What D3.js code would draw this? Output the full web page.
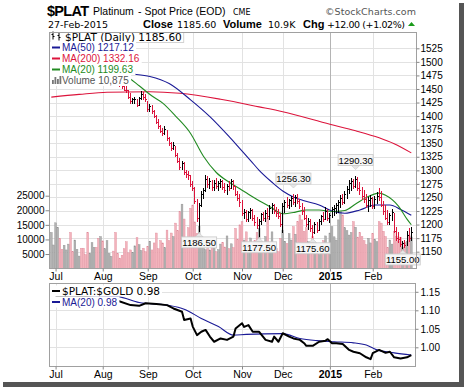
<!DOCTYPE html>
<html>
<head>
<meta charset="utf-8">
<script src="https://cdn.jsdelivr.net/npm/d3@7"></script>
<style>
  body { margin: 0; background: #fff; }
  svg { display: block; }
  text { font-family: "DejaVu Sans", Verdana, sans-serif; }
  .ax text { font-family: "Liberation Sans", Arial, sans-serif; font-size: 10px; fill: #000; }
</style>
</head>
<body>
<svg width="464" height="387"></svg>
<script>
// bar index 0 = 27-Jun-2014, index 168 = 27-Feb-2015
var monthLabels = ["Jul", "Aug", "Sep", "Oct", "Nov", "Dec", "2015", "Feb"];
var monthIdx = [2, 24, 45, 66, 89, 108, 130, 150];
var priceTicks = [1150, 1175, 1200, 1225, 1250, 1275, 1300, 1325, 1350, 1375, 1400, 1425, 1450, 1475, 1500, 1525];
var volTicks = [5000, 10000, 15000, 20000, 25000];
var ratioTicks = [1.00, 1.05, 1.10, 1.15];

var high = [
  1486,1489,1500,1512,1514,1508,1510,1516,1522,1520,1512,1506,1509,1512,1509,1499,1492,1488,1489,1492,1494,1491,1484,1478,
  1476,1472,1476,1482,1486,1484,1476,1472,1468,1462,1460,1457,1448,1442,1434,1436,1431,1436,1446,1444,1440,
  1428,1422,1421,1412,1402,1395,1384,1378,1382,1374,1362,1352,1352,1344,1332,1322,1318,1316,1300,1298,1292,
  1280,1270,1248,1240,1262,1268,1292,1290,1285,1282,1282,1286,1280,1284,1283,1276,1275,1280,1284,1282,1272,1262,1256,
  1245,1228,1226,1225,1230,1228,1218,1214,1210,1222,1224,1226,1230,1236,1240,1238,1232,1228,1222,
  1240,1245,1250,1248,1252,1256.3,1254,1256,1248,1240,1232,1218,1212,1210,1200,1205,1204,1210,1218,1224,1232,1228,
  1222,1232,1236,1240,1246,1254,1256,1262,1272,1282,1285,1284,1290.3,1288,1278,1270,1264,1256,1250,1254,
  1250,1252,1260,1268,1262,1244,1236,1226,1222,1228,1222,1196,1186,1178,1170,1172,1188,1194,1196
];
var low = [
  1474,1476,1481,1494,1500,1496,1497,1502,1508,1506,1494,1492,1496,1499,1492,1484,1478,1472,1474,1479,1482,1476,1466,1464,
  1460,1458,1462,1466,1470,1468,1462,1458,1454,1450,1446,1443,1432,1423,1423,1422,1417,1419,1430,1430,1426,
  1408,1407,1404,1396,1386,1377,1368,1364,1366,1355,1345,1335,1337,1325,1314,1300,1300,1292,1286,1282,1270,
  1262,1238,1205,1186.5,1232,1248,1260,1268,1266,1262,1262,1265,1262,1268,1264,1258,1255,1262,1266,1264,1252,1244,1232,
  1215,1210,1205,1205,1210,1206,1198,1192,1177.5,1200,1206,1205,1210,1208,1220,1220,1214,1210,1196,
  1184,1222,1230,1228,1232,1236,1232,1238,1228,1218,1208,1196,1190,1186,1175.6,1182,1184,1188,1200,1205,1208,1206,
  1202,1212,1216,1220,1222,1230,1236,1238,1248,1256,1262,1266,1268,1262,1254,1246,1240,1230,1224,1232,
  1228,1228,1238,1244,1232,1218,1208,1200,1200,1206,1184,1170,1166,1158,1155,1156,1160,1168,1170
];
var close = [
  1480,1483,1497,1508,1505,1500,1506,1512,1518,1510,1498,1502,1505,1508,1496,1488,1482,1478,1484,1488,1490,1480,1470,1474,
  1464,1468,1471,1478,1480,1472,1466,1462,1458,1455,1448,1447,1435,1426,1430,1431,1420,1432,1440,1434,1430,
  1412,1418,1408,1400,1389,1380,1372,1368,1376,1358,1349,1340,1346,1328,1317,1305,1312,1296,1292,1290,1274,
  1266,1242,1212,1236,1255,1262,1284,1274,1280,1268,1276,1270,1275,1280,1268,1262,1270,1266,1280,1270,1256,1248,1240,
  1220,1222,1210,1222,1226,1212,1204,1198,1205,1218,1212,1220,1214,1230,1236,1225,1220,1214,1200,
  1234,1240,1236,1244,1248,1240,1250,1242,1234,1225,1212,1200,1206,1192,1186,1200,1190,1205,1214,1210,1225,1212,
  1216,1228,1230,1236,1240,1248,1240,1256,1264,1276,1280,1270,1284,1266,1262,1252,1246,1236,1244,1248,
  1234,1246,1252,1250,1236,1224,1212,1204,1216,1222,1188,1174,1172,1164,1166,1162,1180,1173.6,1185.6
];
var volume = [
  12400,8100,15700,14100,10400,6600,8000,6400,8400,12400,5800,9800,6600,4300,7000,7000,4800,12400,5300,8900,7300,7300,10400,11000,
  9500,6800,9600,5200,4200,6000,12400,5200,3600,4600,6800,9200,5400,6400,5500,7800,10600,8200,6200,7000,5800,
  7600,9400,6400,8800,12200,6800,9600,8800,7200,13200,9600,12200,11000,15600,13000,19500,22100,17000,10500,14000,20700,
  21800,16000,12000,14500,11000,9000,6500,7500,6400,9800,7000,5800,6500,8400,9000,7400,11200,6800,8500,7200,13800,10000,15000,
  16100,9800,12600,8500,10500,7600,9600,12400,13800,9200,7400,11000,17200,8800,12600,9000,6800,5800,10400,
  13200,9400,8600,12000,9800,14400,11800,16100,18400,16700,12800,14000,9200,8600,11000,6400,5800,4800,7400,9600,11200,8400,
  12200,14400,10900,9800,16700,19500,18400,14000,13000,11500,12400,16100,14200,10800,12400,11000,9600,8200,10400,8800,
  12000,10000,9200,16100,15600,12800,11000,7200,9800,8400,12800,11000,9200,10800,7400,9000,9400,11500,10875
];

// moving averages, [bar index, value]
var ma200 = [[0,1435],[13,1440],[26,1444],[46,1445],[60,1442],[79,1431],[97,1417],[108,1408],[130,1385],[142,1373],[153,1360],[160,1349],[168,1332.16]];
var ma50 = [[0,1490],[20,1486],[37,1478],[46,1473],[55,1460],[65,1430],[74,1399],[83,1362],[88,1340],[93,1318],[97,1300],[103,1278],[108,1262],[113,1251],[118,1244],[125,1236],[131,1225],[137,1221],[144,1227],[151,1236],[158,1236],[163,1228],[168,1217.12]];
var ma20 = [[0,1490],[20,1500],[35,1474],[41,1456],[47,1437],[52,1424],[58,1400],[65,1368],[71,1326],[77,1296],[83,1278],[88,1266],[92,1256],[97,1244],[102,1233],[108,1220],[114,1223],[119,1227],[125,1227],[131,1224],[137,1226],[142,1238],[147,1250],[153,1258],[156,1254],[162,1234],[166,1210],[168,1199.63]];

// $PLAT:$GOLD ratio and its MA(20)
var ratio = [[2,1.136],[10,1.14],[20,1.134],[28,1.13],[31,1.126],[37,1.114],[41,1.112],[44,1.119],[49,1.117],[54,1.114],[57,1.105],[61,1.096],[62,1.074],[65,1.078],[66,1.056],[68,1.033],[70,1.042],[72,1.047],[74,1.029],[76,1.015],[79,1.024],[82,1.020],[85,1.029],[86,1.051],[89,1.065],[90,1.055],[92,1.06],[94,1.042],[97,1.042],[100,1.020],[103,1.015],[104,1.029],[106,1.015],[108,1.038],[111,1.029],[113,1.024],[116,1.02],[118,1.011],[119,1.004],[122,1.004],[125,1.015],[128,1.018],[129,1.022],[131,1.011],[133,1.011],[136,1.009],[139,0.993],[141,0.988],[144,0.984],[147,0.973],[149,0.968],[150,0.984],[153,0.993],[156,0.985],[158,0.988],[160,0.973],[163,0.970],[166,0.973],[168,0.979]];
var ratioMa = [[2,1.14],[20,1.139],[31,1.137],[41,1.121],[54,1.114],[62,1.103],[70,1.078],[78,1.056],[85,1.033],[91,1.035],[108,1.037],[116,1.024],[124,1.018],[132,1.015],[141,1.012],[147,1.006],[152,0.993],[160,0.985],[168,0.979]];

// high/low annotations: [bar index, value, above?]
var callouts = [[69,1186.5,false],[97,1177.5,false],[113,1256.3,true],[122,1175.6,false],[142,1290.3,true],[164,1155.0,false]];

var svg = d3.select("svg");
var RED = "#dc143c", NAVY = "#1a1a96", GREEN = "#228b22";

var M = {l: 49.5, t: 32.5, r: 416.5, b: 268.5};
var S = {l: 49.5, t: 283.5, r: 415.5, b: 366.5};

var x = d3.scaleLinear().domain([0, 168]).range([51.3, 411.3]);
var yP = d3.scaleLinear().domain([1150, 1525]).range([251.7, 48.3]);
var yV = d3.scaleLinear().domain([0, 25000]).range([268.6, 195.7]);
var yR = d3.scaleLinear().domain([1.00, 1.15]).range([347.3, 291.8]);

var defs = svg.append("defs");
defs.append("clipPath").attr("id", "clipM").append("rect")
  .attr("x", M.l).attr("y", M.t).attr("width", M.r - M.l).attr("height", M.b - M.t);
defs.append("clipPath").attr("id", "clipS").append("rect")
  .attr("x", S.l).attr("y", S.t).attr("width", S.r - S.l).attr("height", S.b - S.t);

// frame shadow
svg.append("rect").attr("x", 459).attr("y", 3).attr("width", 5).attr("height", 384).attr("fill", "#555");
svg.append("rect").attr("x", 3).attr("y", 382).attr("width", 461).attr("height", 5).attr("fill", "#555");

// ---------- header ----------
var hd = svg.append("g");
hd.append("text").attr("x", 47).attr("y", 15.5).text("$PLAT").attr("textLength", 42)
  .style("font-family", "Liberation Sans, Arial").style("font-weight", "bold").style("font-size", "14.5px");
hd.append("text").attr("x", 93).attr("y", 15).text("Platinum")
  .style("font-family", "Liberation Sans, Arial").style("font-size", "10.5px");
hd.append("text").attr("x", 138).attr("y", 15).text("- Spot Price (EOD)")
  .style("font-family", "Liberation Sans, Arial").style("font-size", "10.5px");
hd.append("text").attr("x", 233).attr("y", 15).text("CME").style("font-size", "8px");
hd.append("text").attr("x", 325).attr("y", 15).text("\u00a9StockCharts.com")
  .attr("textLength", 91).style("font-size", "9.5px").style("fill", "#555");

hd.append("text").attr("x", 48).attr("y", 27.5).text("27-Feb-2015").style("font-size", "9.5px");
var boldF = function (s) { return s.style("font-family", "Liberation Sans, Arial").style("font-weight", "bold").style("font-size", "11px"); };
boldF(hd.append("text").attr("x", 143).attr("y", 27.5).text("Close"));
hd.append("text").attr("x", 177).attr("y", 27.5).text("1185.60").style("font-size", "9.5px");
boldF(hd.append("text").attr("x", 223).attr("y", 27.5).text("Volume"));
hd.append("text").attr("x", 268).attr("y", 27.5).text("10.9K").style("font-size", "9.5px");
boldF(hd.append("text").attr("x", 303).attr("y", 27.5).text("Chg"));
hd.append("text").attr("x", 327).attr("y", 27.5).text("+12.00 (+1.02%)")
  .attr("textLength", 78).style("font-size", "9.5px");
hd.append("path").attr("d", "M408,26 L415,26 L411.5,22 Z").attr("fill", "#1a9a1a");

// ---------- main panel ----------
var gM = svg.append("g");
gM.append("rect").attr("x", M.l).attr("y", M.t).attr("width", M.r - M.l).attr("height", M.b - M.t).attr("fill", "#fff");

gM.append("g").selectAll("line").data(priceTicks).enter().append("line")
  .attr("x1", M.l).attr("x2", M.r).attr("y1", d => Math.round(yP(d)) + 0.5).attr("y2", d => Math.round(yP(d)) + 0.5)
  .attr("stroke", "#e2e2e2");
gM.append("g").selectAll("line").data(monthIdx).enter().append("line")
  .attr("x1", d => Math.round(x(d)) + 0.5).attr("x2", d => Math.round(x(d)) + 0.5)
  .attr("y1", M.t).attr("y2", M.b)
  .attr("stroke", (d, i) => monthLabels[i] === "2015" ? "#b4b4b4" : "#e2e2e2");

var up = close.map((c, i) => i === 0 ? true : c >= close[i - 1]);

var inner = gM.append("g").attr("clip-path", "url(#clipM)");
inner.append("g").selectAll("rect").data(volume).enter().append("rect")
  .attr("x", (d, i) => x(i) - 0.9).attr("width", 1.8)
  .attr("y", d => yV(d)).attr("height", d => yV(0) - yV(d))
  .attr("fill", (d, i) => up[i] ? "#b3b3b3" : "#f2b3bc")
  .attr("stroke", (d, i) => up[i] ? "#8f8f8f" : "#e0899a").attr("stroke-width", 0.4);

var maLine = d3.line().x(d => x(d[0])).y(d => yP(d[1])).curve(d3.curveMonotoneX);
inner.append("path").datum(ma200).attr("d", maLine).attr("fill", "none").attr("stroke", RED).attr("stroke-width", 1.1);
inner.append("path").datum(ma50).attr("d", maLine).attr("fill", "none").attr("stroke", NAVY).attr("stroke-width", 1.1);
inner.append("path").datum(ma20).attr("d", maLine).attr("fill", "none").attr("stroke", GREEN).attr("stroke-width", 1.1);

var bars = inner.append("g").attr("shape-rendering", "crispEdges");
bars.selectAll("line.hl").data(close).enter().append("line").attr("class", "hl")
  .attr("x1", (d, i) => x(i)).attr("x2", (d, i) => x(i))
  .attr("y1", (d, i) => yP(high[i])).attr("y2", (d, i) => yP(low[i]))
  .attr("stroke", (d, i) => up[i] ? "#000" : RED);
bars.selectAll("line.cl").data(close).enter().append("line").attr("class", "cl")
  .attr("x1", (d, i) => x(i)).attr("x2", (d, i) => x(i) + 1.6)
  .attr("y1", d => yP(d)).attr("y2", d => yP(d))
  .attr("stroke", (d, i) => up[i] ? "#000" : RED);

// callouts
var co = gM.append("g");
callouts.forEach(function (c) {
  var cx = x(c[0]), bw = 35, bh = 11;
  var by = c[2] ? yP(c[1]) - 10 - bh : yP(c[1]) + 5;
  var tipY = c[2] ? by + bh + 4 : by - 4;
  var baseY = c[2] ? by + bh : by;
  co.append("path").attr("d", "M" + (cx - 4) + "," + baseY + " L" + cx + "," + tipY + " L" + (cx + 4) + "," + baseY + " Z")
    .attr("fill", "#e6e6e6").attr("stroke", "#c8c8c8").attr("stroke-width", 0.6);
  co.append("rect").attr("x", cx - bw / 2).attr("y", by).attr("width", bw).attr("height", bh)
    .attr("fill", "#f6f6f6").attr("stroke", "#c8c8c8").attr("stroke-width", 0.8);
  co.append("text").attr("x", cx).attr("y", by + 9).attr("text-anchor", "middle")
    .style("font-family", "Liberation Sans, Arial").style("font-size", "9.5px").text(d3.format(".2f")(c[1]));
});

// legend of the price panel
function legendRow(g, xs, yBase, label, color, font, size, mark) {
  var row = g.append("g");
  var bg = row.append("rect").attr("fill", "#fff");
  var t = row.append("text").attr("x", xs).attr("y", yBase).text(label)
    .style("font-family", font).style("font-size", size).style("fill", color);
  if (mark === "line") {
    row.append("line").attr("x1", 52).attr("x2", 60).attr("y1", yBase - 3.5).attr("y2", yBase - 3.5)
      .attr("stroke", color).attr("stroke-width", 2);
  } else if (mark === "vol") {
    [[52, 4], [54.5, 7], [57, 5], [59.5, 8]].forEach(function (b) {
      row.append("rect").attr("x", b[0]).attr("y", yBase - b[1]).attr("width", 1.8).attr("height", b[1]).attr("fill", "#777");
    });
  } else if (mark === "ohlc") {
    [[53, yBase - 9, yBase - 1], [59, yBase - 8, yBase]].forEach(function (b) {
      row.append("line").attr("x1", b[0]).attr("x2", b[0]).attr("y1", b[1]).attr("y2", b[2]).attr("stroke", "#000");
      row.append("line").attr("x1", b[0] - 1.5).attr("x2", b[0]).attr("y1", b[1] + 3).attr("y2", b[1] + 3).attr("stroke", "#000");
      row.append("line").attr("x1", b[0]).attr("x2", b[0] + 1.5).attr("y1", b[2] - 3).attr("y2", b[2] - 3).attr("stroke", "#000");
    });
  }
  var bb = t.node().getBBox();
  bg.attr("x", 50).attr("y", yBase - 9).attr("width", bb.x + bb.width - 48).attr("height", 11);
  return bg;
}
var lg = gM.append("g");
var r1 = legendRow(lg, 65, 40.5, "$PLAT (Daily) 1185.60", "#000", "DejaVu Sans", "10.5px", "ohlc");
r1.attr("stroke", "#c8c8c8").attr("stroke-width", 0.8).attr("y", 32.5).attr("height", 10);
legendRow(lg, 62, 51, "MA(50) 1217.12", NAVY, "Liberation Sans, Arial", "10px", "line");
legendRow(lg, 62, 62, "MA(200) 1332.16", RED, "Liberation Sans, Arial", "10px", "line");
legendRow(lg, 62, 73, "MA(20) 1199.63", GREEN, "Liberation Sans, Arial", "10px", "line");
legendRow(lg, 62, 84, "Volume 10,875", "#555", "Liberation Sans, Arial", "10px", "vol");

gM.append("rect").attr("x", M.l).attr("y", M.t).attr("width", M.r - M.l).attr("height", M.b - M.t)
  .attr("fill", "none").attr("stroke", "#a0a0a0");

// axes of the price panel
var axR = svg.append("g").attr("class", "ax").attr("transform", "translate(" + M.r + ",0)")
  .call(d3.axisRight(yP).tickValues(priceTicks).tickSize(3).tickPadding(1).tickFormat(d3.format("d")));
var axL = svg.append("g").attr("class", "ax").attr("transform", "translate(" + M.l + ",0)")
  .call(d3.axisLeft(yV).tickValues(volTicks).tickSize(4).tickPadding(1).tickFormat(d3.format("d")));
var monthAxis = d3.axisBottom(x).tickValues(monthIdx).tickSize(3).tickPadding(1)
  .tickFormat((d, i) => monthLabels[i]);
var axB = svg.append("g").attr("class", "ax").attr("transform", "translate(0," + M.b + ")").call(monthAxis);
[axR, axL, axB].forEach(function (a) {
  a.select(".domain").remove();
  a.selectAll("line").attr("stroke", "#888");
});
axB.selectAll("text").style("font-size", "10.5px")
  .style("font-weight", (d, i) => monthLabels[i] === "2015" ? "bold" : "normal");

// ---------- ratio panel ----------
var gS = svg.append("g");
gS.append("rect").attr("x", S.l).attr("y", S.t).attr("width", S.r - S.l).attr("height", S.b - S.t).attr("fill", "#fff");
gS.append("g").selectAll("line").data(ratioTicks).enter().append("line")
  .attr("x1", S.l).attr("x2", S.r).attr("y1", d => Math.round(yR(d)) + 0.5).attr("y2", d => Math.round(yR(d)) + 0.5)
  .attr("stroke", "#e2e2e2");
gS.append("g").selectAll("line").data(monthIdx).enter().append("line")
  .attr("x1", d => Math.round(x(d)) + 0.5).attr("x2", d => Math.round(x(d)) + 0.5)
  .attr("y1", S.t).attr("y2", S.b)
  .attr("stroke", (d, i) => monthLabels[i] === "2015" ? "#b4b4b4" : "#e2e2e2");

var innerS = gS.append("g").attr("clip-path", "url(#clipS)");
var rLine = d3.line().x(d => x(d[0])).y(d => yR(d[1]));
innerS.append("path").datum(ratioMa).attr("d", rLine.curve(d3.curveMonotoneX)).attr("fill", "none")
  .attr("stroke", NAVY).attr("stroke-width", 1.1);
innerS.append("path").datum(ratio).attr("d", d3.line().x(d => x(d[0])).y(d => yR(d[1]))).attr("fill", "none")
  .attr("stroke", "#000").attr("stroke-width", 2).attr("stroke-linejoin", "round");

var lg2 = gS.append("g");
legendRow(lg2, 62, 294.5, "$PLAT:$GOLD 0.98", "#000", "DejaVu Sans", "10.5px", "line");
legendRow(lg2, 62, 305.5, "MA(20) 0.98", NAVY, "Liberation Sans, Arial", "10px", "line");

gS.append("rect").attr("x", S.l).attr("y", S.t).attr("width", S.r - S.l).attr("height", S.b - S.t)
  .attr("fill", "none").attr("stroke", "#a0a0a0");

var axR2 = svg.append("g").attr("class", "ax").attr("transform", "translate(" + S.r + ",0)")
  .call(d3.axisRight(yR).tickValues(ratioTicks).tickSize(3).tickPadding(2).tickFormat(d3.format(".2f")));
var axB2 = svg.append("g").attr("class", "ax").attr("transform", "translate(0," + S.b + ")").call(monthAxis);
[axR2, axB2].forEach(function (a) {
  a.select(".domain").remove();
  a.selectAll("line").attr("stroke", "#888");
});
axB2.selectAll("text").style("font-size", "10.5px")
  .style("font-weight", (d, i) => monthLabels[i] === "2015" ? "bold" : "normal");
</script>
</body>
</html>
